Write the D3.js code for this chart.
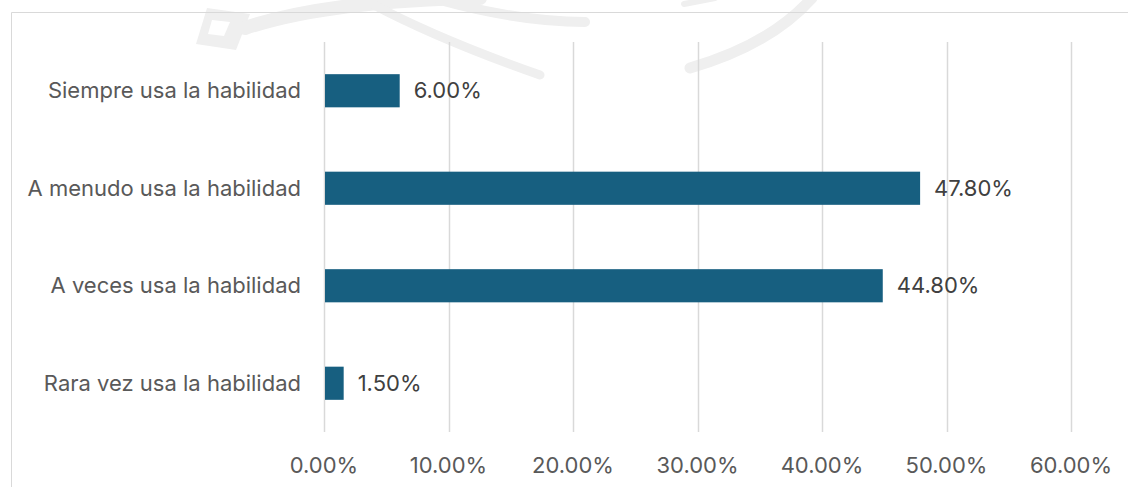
<!DOCTYPE html>
<html><head><meta charset="utf-8">
<script src="https://cdn.jsdelivr.net/npm/d3@7"></script>
<style>body{margin:0;background:#fff}svg{display:block}</style>
</head><body>
<script>
const categories = ["Siempre usa la habilidad","A menudo usa la habilidad","A veces usa la habilidad","Rara vez usa la habilidad"];
const values = [6.0, 47.8, 44.8, 1.5];
const tickValues = [0,10,20,30,40,50,60];

const W=1128,H=487;
const svg=d3.select("body").append("svg").attr("width",W).attr("height",H);
const font="Inter, 'Noto Sans', sans-serif";
const fs=22;

// faint watermark
const wm=svg.append("g").attr("fill","none").attr("stroke","#efefef").attr("stroke-linecap","round");
wm.append("path").attr("d","M 207 8 L 250 14 L 236 50 L 196 44 Z M 212 20 L 230 22 L 224 36 L 208 34 Z")
  .attr("fill","#efefef").attr("fill-rule","evenodd").attr("stroke","none");
wm.append("path").attr("d","M 245 28 Q 330 0 480 -2").attr("stroke-width",14);
wm.append("path").attr("d","M 372 4 Q 440 40 540 75").attr("stroke-width",9);
wm.append("path").attr("d","M 440 0 Q 520 22 585 22").attr("stroke-width",10);
wm.append("path").attr("d","M 812 -2 Q 770 45 690 68").attr("stroke-width",11);
wm.append("path").attr("d","M 684 4 L 715 -2").attr("stroke-width",6);

// border
svg.append("path").attr("d",`M 11.5 ${H} L 11.5 12.5 L ${W} 12.5`).attr("fill","none").attr("stroke","#d9d9d9").attr("stroke-width",1);

const x=d3.scaleLinear().domain([0,60]).range([324,1071]);
const y=d3.scaleBand().domain(categories).range([42,432]).paddingInner(0.66).paddingOuter(0.33);

svg.append("g").selectAll("line").data(tickValues).join("line")
 .attr("x1",d=>Math.round(x(d))+0.5).attr("x2",d=>Math.round(x(d))+0.5)
 .attr("y1",42).attr("y2",432).attr("stroke","#d9d9d9").attr("stroke-width",1.5);

svg.append("g").selectAll("rect").data(values).join("rect")
 .attr("x",x(0)+1).attr("y",(d,i)=>y(categories[i]))
 .attr("width",d=>x(d)-x(0)).attr("height",y.bandwidth()).attr("fill","#175f80");

svg.append("g").selectAll("text").data(values).join("text")
 .attr("x",d=>x(d)+15).attr("y",(d,i)=>y(categories[i])+y.bandwidth()/2)
 .attr("dy","0.35em").attr("font-family",font).attr("font-size",fs).attr("fill","#404040")
 .text(d=>d.toFixed(2)+"%");

svg.append("g").selectAll("text").data(categories).join("text")
 .attr("x",301).attr("y",d=>y(d)+y.bandwidth()/2).attr("dy","0.35em").attr("text-anchor","end")
 .attr("font-family",font).attr("font-size",fs).attr("fill","#595959").text(d=>d);

svg.append("g").selectAll("text").data(tickValues).join("text")
 .attr("x",d=>x(d)).attr("y",465).attr("dy","0.35em").attr("text-anchor","middle")
 .attr("font-family",font).attr("font-size",fs).attr("fill","#595959").text(d=>d.toFixed(2)+"%");
</script>
</body></html>
